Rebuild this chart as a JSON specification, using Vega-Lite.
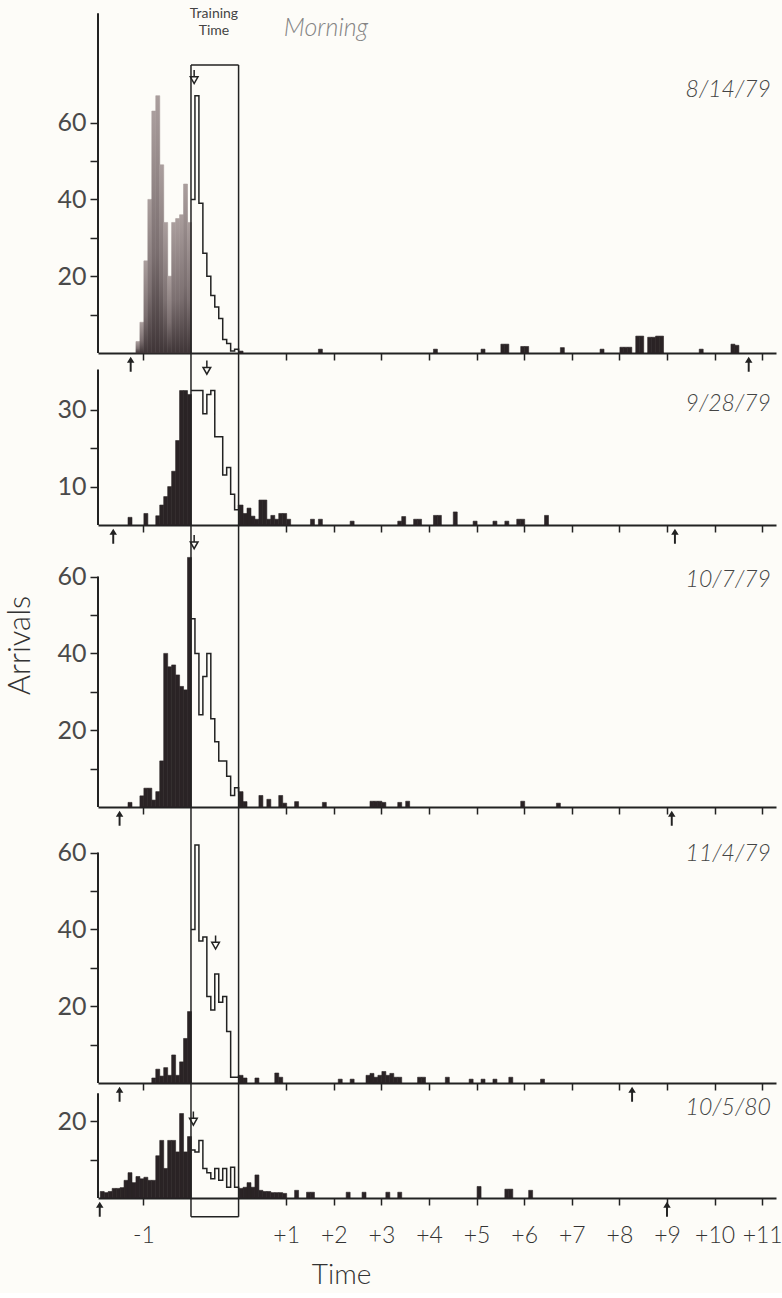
{
  "$schema": "https://vega.github.io/schema/vega-lite/v6.json",
  "background": "#fdfcf8",
  "padding": {"left": 4, "top": 0, "right": 5, "bottom": 4},
  "spacing": 0,
  "bounds": "flush",
  "config": {
    "view": {"stroke": null},
    "axis": {"grid": false, "domainColor": "#222222", "tickColor": "#222222", "labelColor": "#4a4a4a", "labelFont": "Lato", "labelFontWeight": 400, "titleFont": "Lato", "titleFontWeight": 300, "titleColor": "#333333"}
  },
  "datasets": {
    "hist": [
      {"date": "8/14/79", "minute": -70, "arrivals": 3}, {"date": "8/14/79", "minute": -65, "arrivals": 8}, {"date": "8/14/79", "minute": -60, "arrivals": 24}, {"date": "8/14/79", "minute": -55, "arrivals": 40}, {"date": "8/14/79", "minute": -50, "arrivals": 63}, {"date": "8/14/79", "minute": -45, "arrivals": 67}, {"date": "8/14/79", "minute": -40, "arrivals": 49}, {"date": "8/14/79", "minute": -35, "arrivals": 34}, {"date": "8/14/79", "minute": -30, "arrivals": 20}, {"date": "8/14/79", "minute": -25, "arrivals": 34}, {"date": "8/14/79", "minute": -20, "arrivals": 35}, {"date": "8/14/79", "minute": -15, "arrivals": 36}, {"date": "8/14/79", "minute": -10, "arrivals": 44}, {"date": "8/14/79", "minute": -5, "arrivals": 34},
      {"date": "8/14/79", "minute": 0, "arrivals": 40}, {"date": "8/14/79", "minute": 5, "arrivals": 67}, {"date": "8/14/79", "minute": 10, "arrivals": 39}, {"date": "8/14/79", "minute": 15, "arrivals": 26}, {"date": "8/14/79", "minute": 20, "arrivals": 20}, {"date": "8/14/79", "minute": 25, "arrivals": 15}, {"date": "8/14/79", "minute": 30, "arrivals": 12}, {"date": "8/14/79", "minute": 35, "arrivals": 9}, {"date": "8/14/79", "minute": 40, "arrivals": 3.5}, {"date": "8/14/79", "minute": 45, "arrivals": 2.5}, {"date": "8/14/79", "minute": 50, "arrivals": 0.5}, {"date": "8/14/79", "minute": 55, "arrivals": 1},
      {"date": "8/14/79", "minute": 60, "arrivals": 0.5}, {"date": "8/14/79", "minute": 160, "arrivals": 1}, {"date": "8/14/79", "minute": 305, "arrivals": 1}, {"date": "8/14/79", "minute": 365, "arrivals": 1}, {"date": "8/14/79", "minute": 390, "arrivals": 2.3}, {"date": "8/14/79", "minute": 395, "arrivals": 2.3}, {"date": "8/14/79", "minute": 415, "arrivals": 1.7}, {"date": "8/14/79", "minute": 420, "arrivals": 1.7}, {"date": "8/14/79", "minute": 465, "arrivals": 1.4}, {"date": "8/14/79", "minute": 515, "arrivals": 1}, {"date": "8/14/79", "minute": 540, "arrivals": 1.5}, {"date": "8/14/79", "minute": 545, "arrivals": 1.5}, {"date": "8/14/79", "minute": 550, "arrivals": 1.5}, {"date": "8/14/79", "minute": 560, "arrivals": 4.4}, {"date": "8/14/79", "minute": 565, "arrivals": 4.4}, {"date": "8/14/79", "minute": 575, "arrivals": 4.1}, {"date": "8/14/79", "minute": 580, "arrivals": 4.1}, {"date": "8/14/79", "minute": 585, "arrivals": 4.4}, {"date": "8/14/79", "minute": 590, "arrivals": 4.4}, {"date": "8/14/79", "minute": 640, "arrivals": 1}, {"date": "8/14/79", "minute": 680, "arrivals": 2.3}, {"date": "8/14/79", "minute": 685, "arrivals": 2},

      {"date": "9/28/79", "minute": -80, "arrivals": 2}, {"date": "9/28/79", "minute": -60, "arrivals": 3}, {"date": "9/28/79", "minute": -45, "arrivals": 2.4}, {"date": "9/28/79", "minute": -40, "arrivals": 5.2}, {"date": "9/28/79", "minute": -35, "arrivals": 7.4}, {"date": "9/28/79", "minute": -30, "arrivals": 10}, {"date": "9/28/79", "minute": -25, "arrivals": 14}, {"date": "9/28/79", "minute": -20, "arrivals": 22}, {"date": "9/28/79", "minute": -15, "arrivals": 35}, {"date": "9/28/79", "minute": -10, "arrivals": 35}, {"date": "9/28/79", "minute": -5, "arrivals": 34},
      {"date": "9/28/79", "minute": 0, "arrivals": 35}, {"date": "9/28/79", "minute": 5, "arrivals": 35}, {"date": "9/28/79", "minute": 10, "arrivals": 35}, {"date": "9/28/79", "minute": 15, "arrivals": 29}, {"date": "9/28/79", "minute": 20, "arrivals": 34}, {"date": "9/28/79", "minute": 25, "arrivals": 35}, {"date": "9/28/79", "minute": 30, "arrivals": 23}, {"date": "9/28/79", "minute": 35, "arrivals": 23}, {"date": "9/28/79", "minute": 40, "arrivals": 13}, {"date": "9/28/79", "minute": 45, "arrivals": 15}, {"date": "9/28/79", "minute": 50, "arrivals": 8}, {"date": "9/28/79", "minute": 55, "arrivals": 4},
      {"date": "9/28/79", "minute": 60, "arrivals": 5.2}, {"date": "9/28/79", "minute": 65, "arrivals": 3}, {"date": "9/28/79", "minute": 70, "arrivals": 4.4}, {"date": "9/28/79", "minute": 75, "arrivals": 2.3}, {"date": "9/28/79", "minute": 80, "arrivals": 1.5}, {"date": "9/28/79", "minute": 85, "arrivals": 6.5}, {"date": "9/28/79", "minute": 90, "arrivals": 6.5}, {"date": "9/28/79", "minute": 95, "arrivals": 1.5}, {"date": "9/28/79", "minute": 100, "arrivals": 2.5}, {"date": "9/28/79", "minute": 105, "arrivals": 1.5}, {"date": "9/28/79", "minute": 110, "arrivals": 3}, {"date": "9/28/79", "minute": 115, "arrivals": 3}, {"date": "9/28/79", "minute": 120, "arrivals": 1.5}, {"date": "9/28/79", "minute": 150, "arrivals": 1.5}, {"date": "9/28/79", "minute": 160, "arrivals": 1.5}, {"date": "9/28/79", "minute": 200, "arrivals": 1}, {"date": "9/28/79", "minute": 260, "arrivals": 1}, {"date": "9/28/79", "minute": 265, "arrivals": 2.2}, {"date": "9/28/79", "minute": 280, "arrivals": 1.5}, {"date": "9/28/79", "minute": 285, "arrivals": 1.5}, {"date": "9/28/79", "minute": 305, "arrivals": 2.5}, {"date": "9/28/79", "minute": 310, "arrivals": 2.5}, {"date": "9/28/79", "minute": 330, "arrivals": 3.4}, {"date": "9/28/79", "minute": 355, "arrivals": 1}, {"date": "9/28/79", "minute": 380, "arrivals": 1}, {"date": "9/28/79", "minute": 395, "arrivals": 1}, {"date": "9/28/79", "minute": 410, "arrivals": 1.5}, {"date": "9/28/79", "minute": 415, "arrivals": 1.5}, {"date": "9/28/79", "minute": 445, "arrivals": 2.5},

      {"date": "10/7/79", "minute": -80, "arrivals": 1.2}, {"date": "10/7/79", "minute": -65, "arrivals": 2.9}, {"date": "10/7/79", "minute": -60, "arrivals": 4.9}, {"date": "10/7/79", "minute": -55, "arrivals": 4.9}, {"date": "10/7/79", "minute": -50, "arrivals": 1.8}, {"date": "10/7/79", "minute": -45, "arrivals": 4}, {"date": "10/7/79", "minute": -40, "arrivals": 12}, {"date": "10/7/79", "minute": -35, "arrivals": 40}, {"date": "10/7/79", "minute": -30, "arrivals": 36.5}, {"date": "10/7/79", "minute": -25, "arrivals": 37}, {"date": "10/7/79", "minute": -20, "arrivals": 34.4}, {"date": "10/7/79", "minute": -15, "arrivals": 31.4}, {"date": "10/7/79", "minute": -10, "arrivals": 30.5}, {"date": "10/7/79", "minute": -5, "arrivals": 65},
      {"date": "10/7/79", "minute": 0, "arrivals": 49}, {"date": "10/7/79", "minute": 5, "arrivals": 40}, {"date": "10/7/79", "minute": 10, "arrivals": 24}, {"date": "10/7/79", "minute": 15, "arrivals": 34}, {"date": "10/7/79", "minute": 20, "arrivals": 40}, {"date": "10/7/79", "minute": 25, "arrivals": 23}, {"date": "10/7/79", "minute": 30, "arrivals": 17}, {"date": "10/7/79", "minute": 35, "arrivals": 12}, {"date": "10/7/79", "minute": 40, "arrivals": 12}, {"date": "10/7/79", "minute": 45, "arrivals": 8}, {"date": "10/7/79", "minute": 50, "arrivals": 3}, {"date": "10/7/79", "minute": 55, "arrivals": 5},
      {"date": "10/7/79", "minute": 60, "arrivals": 4}, {"date": "10/7/79", "minute": 65, "arrivals": 1.4}, {"date": "10/7/79", "minute": 85, "arrivals": 3}, {"date": "10/7/79", "minute": 95, "arrivals": 2}, {"date": "10/7/79", "minute": 110, "arrivals": 3}, {"date": "10/7/79", "minute": 115, "arrivals": 1}, {"date": "10/7/79", "minute": 130, "arrivals": 1.4}, {"date": "10/7/79", "minute": 165, "arrivals": 1.2}, {"date": "10/7/79", "minute": 225, "arrivals": 1.5}, {"date": "10/7/79", "minute": 230, "arrivals": 1.5}, {"date": "10/7/79", "minute": 235, "arrivals": 1.5}, {"date": "10/7/79", "minute": 240, "arrivals": 1.2}, {"date": "10/7/79", "minute": 260, "arrivals": 1.2}, {"date": "10/7/79", "minute": 270, "arrivals": 1.5}, {"date": "10/7/79", "minute": 415, "arrivals": 1.5}, {"date": "10/7/79", "minute": 460, "arrivals": 1},

      {"date": "11/4/79", "minute": -50, "arrivals": 1.3}, {"date": "11/4/79", "minute": -45, "arrivals": 3.6}, {"date": "11/4/79", "minute": -40, "arrivals": 1.8}, {"date": "11/4/79", "minute": -35, "arrivals": 4}, {"date": "11/4/79", "minute": -30, "arrivals": 2}, {"date": "11/4/79", "minute": -25, "arrivals": 7.3}, {"date": "11/4/79", "minute": -20, "arrivals": 2}, {"date": "11/4/79", "minute": -15, "arrivals": 5.5}, {"date": "11/4/79", "minute": -10, "arrivals": 11.6}, {"date": "11/4/79", "minute": -5, "arrivals": 18.6},
      {"date": "11/4/79", "minute": 0, "arrivals": 40}, {"date": "11/4/79", "minute": 5, "arrivals": 62}, {"date": "11/4/79", "minute": 10, "arrivals": 37}, {"date": "11/4/79", "minute": 15, "arrivals": 38}, {"date": "11/4/79", "minute": 20, "arrivals": 22.5}, {"date": "11/4/79", "minute": 25, "arrivals": 19}, {"date": "11/4/79", "minute": 30, "arrivals": 28.4}, {"date": "11/4/79", "minute": 35, "arrivals": 21}, {"date": "11/4/79", "minute": 40, "arrivals": 22.5}, {"date": "11/4/79", "minute": 45, "arrivals": 13.4}, {"date": "11/4/79", "minute": 50, "arrivals": 1.5}, {"date": "11/4/79", "minute": 55, "arrivals": 1.5},
      {"date": "11/4/79", "minute": 60, "arrivals": 2}, {"date": "11/4/79", "minute": 65, "arrivals": 1.3}, {"date": "11/4/79", "minute": 80, "arrivals": 1.3}, {"date": "11/4/79", "minute": 105, "arrivals": 2.6}, {"date": "11/4/79", "minute": 110, "arrivals": 1.5}, {"date": "11/4/79", "minute": 185, "arrivals": 1}, {"date": "11/4/79", "minute": 200, "arrivals": 1}, {"date": "11/4/79", "minute": 220, "arrivals": 2}, {"date": "11/4/79", "minute": 225, "arrivals": 2.5}, {"date": "11/4/79", "minute": 230, "arrivals": 1.5}, {"date": "11/4/79", "minute": 235, "arrivals": 2}, {"date": "11/4/79", "minute": 240, "arrivals": 3}, {"date": "11/4/79", "minute": 245, "arrivals": 2}, {"date": "11/4/79", "minute": 250, "arrivals": 2.5}, {"date": "11/4/79", "minute": 255, "arrivals": 1.5}, {"date": "11/4/79", "minute": 260, "arrivals": 1.5}, {"date": "11/4/79", "minute": 285, "arrivals": 1.5}, {"date": "11/4/79", "minute": 290, "arrivals": 1.5}, {"date": "11/4/79", "minute": 320, "arrivals": 1.5}, {"date": "11/4/79", "minute": 350, "arrivals": 1}, {"date": "11/4/79", "minute": 365, "arrivals": 1}, {"date": "11/4/79", "minute": 380, "arrivals": 1}, {"date": "11/4/79", "minute": 400, "arrivals": 1.5}, {"date": "11/4/79", "minute": 440, "arrivals": 1},

      {"date": "10/5/80", "minute": -115, "arrivals": 1.7}, {"date": "10/5/80", "minute": -110, "arrivals": 1.4}, {"date": "10/5/80", "minute": -105, "arrivals": 1.7}, {"date": "10/5/80", "minute": -100, "arrivals": 2.5}, {"date": "10/5/80", "minute": -95, "arrivals": 2.5}, {"date": "10/5/80", "minute": -90, "arrivals": 2.7}, {"date": "10/5/80", "minute": -85, "arrivals": 4.6}, {"date": "10/5/80", "minute": -80, "arrivals": 6.6}, {"date": "10/5/80", "minute": -75, "arrivals": 4}, {"date": "10/5/80", "minute": -70, "arrivals": 5.6}, {"date": "10/5/80", "minute": -65, "arrivals": 5}, {"date": "10/5/80", "minute": -60, "arrivals": 5.4}, {"date": "10/5/80", "minute": -55, "arrivals": 4.6}, {"date": "10/5/80", "minute": -50, "arrivals": 4.6}, {"date": "10/5/80", "minute": -45, "arrivals": 11}, {"date": "10/5/80", "minute": -40, "arrivals": 15}, {"date": "10/5/80", "minute": -35, "arrivals": 7.7}, {"date": "10/5/80", "minute": -30, "arrivals": 15}, {"date": "10/5/80", "minute": -25, "arrivals": 15}, {"date": "10/5/80", "minute": -20, "arrivals": 12}, {"date": "10/5/80", "minute": -15, "arrivals": 22}, {"date": "10/5/80", "minute": -10, "arrivals": 12}, {"date": "10/5/80", "minute": -5, "arrivals": 16},
      {"date": "10/5/80", "minute": 0, "arrivals": 12.5}, {"date": "10/5/80", "minute": 5, "arrivals": 12}, {"date": "10/5/80", "minute": 10, "arrivals": 15}, {"date": "10/5/80", "minute": 15, "arrivals": 7.7}, {"date": "10/5/80", "minute": 20, "arrivals": 6.6}, {"date": "10/5/80", "minute": 25, "arrivals": 5}, {"date": "10/5/80", "minute": 30, "arrivals": 7.7}, {"date": "10/5/80", "minute": 35, "arrivals": 4.6}, {"date": "10/5/80", "minute": 40, "arrivals": 7.7}, {"date": "10/5/80", "minute": 45, "arrivals": 2.8}, {"date": "10/5/80", "minute": 50, "arrivals": 8}, {"date": "10/5/80", "minute": 55, "arrivals": 2.8},
      {"date": "10/5/80", "minute": 60, "arrivals": 2.5}, {"date": "10/5/80", "minute": 65, "arrivals": 2.8}, {"date": "10/5/80", "minute": 70, "arrivals": 4}, {"date": "10/5/80", "minute": 75, "arrivals": 2.8}, {"date": "10/5/80", "minute": 80, "arrivals": 6}, {"date": "10/5/80", "minute": 85, "arrivals": 2}, {"date": "10/5/80", "minute": 90, "arrivals": 1.7}, {"date": "10/5/80", "minute": 95, "arrivals": 1.7}, {"date": "10/5/80", "minute": 100, "arrivals": 1.4}, {"date": "10/5/80", "minute": 105, "arrivals": 1.4}, {"date": "10/5/80", "minute": 110, "arrivals": 1.4}, {"date": "10/5/80", "minute": 115, "arrivals": 1.2}, {"date": "10/5/80", "minute": 130, "arrivals": 2}, {"date": "10/5/80", "minute": 145, "arrivals": 1.5}, {"date": "10/5/80", "minute": 150, "arrivals": 1.5}, {"date": "10/5/80", "minute": 195, "arrivals": 1.5}, {"date": "10/5/80", "minute": 215, "arrivals": 1.5}, {"date": "10/5/80", "minute": 245, "arrivals": 1.5}, {"date": "10/5/80", "minute": 260, "arrivals": 1.5}, {"date": "10/5/80", "minute": 360, "arrivals": 3}, {"date": "10/5/80", "minute": 395, "arrivals": 2.3}, {"date": "10/5/80", "minute": 400, "arrivals": 2.3}, {"date": "10/5/80", "minute": 425, "arrivals": 2}
    ],
    "arrows": [
      {"date": "8/14/79", "minute": -76, "dir": "up"}, {"date": "8/14/79", "minute": 703, "dir": "up"}, {"date": "8/14/79", "minute": 4, "dir": "down", "arrivals": 71.5},
      {"date": "9/28/79", "minute": -98, "dir": "up"}, {"date": "9/28/79", "minute": 610, "dir": "up"}, {"date": "9/28/79", "minute": 20, "dir": "down", "arrivals": 40.6},
      {"date": "10/7/79", "minute": -90, "dir": "up"}, {"date": "10/7/79", "minute": 606, "dir": "up"}, {"date": "10/7/79", "minute": 4, "dir": "down", "arrivals": 68.6},
      {"date": "11/4/79", "minute": -90, "dir": "up"}, {"date": "11/4/79", "minute": 556, "dir": "up"}, {"date": "11/4/79", "minute": 31, "dir": "down", "arrivals": 36.2},
      {"date": "10/5/80", "minute": -115, "dir": "up"}, {"date": "10/5/80", "minute": 600, "dir": "up"}, {"date": "10/5/80", "minute": 3, "dir": "down", "arrivals": 20.3}
    ]
  },
  "vconcat": [
    {
      "width": 678, "height": 353,
      "layer": [
        {"data": {"name": "hist"}, "transform": [{"filter": "datum.date == '8/14/79' && datum.minute < 0"}],
         "mark": {"type": "bar", "binSpacing": 0, "strokeWidth": 0.6,
                  "color": {"gradient": "linear", "x1": 0, "y1": 0, "x2": 0, "y2": 1, "stops": [{"offset": 0, "color": "#aa9e9d"}, {"offset": 0.6, "color": "#7b6f70"}, {"offset": 1, "color": "#3f3537"}]},
                  "stroke": {"gradient": "linear", "x1": 0, "y1": 0, "x2": 0, "y2": 1, "stops": [{"offset": 0, "color": "#aa9e9d"}, {"offset": 0.6, "color": "#7b6f70"}, {"offset": 1, "color": "#3f3537"}]}},
         "encoding": {
           "x": {"field": "minute", "type": "quantitative", "bin": {"binned": true, "step": 5}, "scale": {"domain": [-117.2, 737.4], "nice": false, "zero": false},
                 "axis": {"values": [-60, 120, 180, 240, 300, 360, 420, 480, 540, 600, 660, 720], "labels": false, "tickSize": 7, "tickWidth": 1.5, "domainWidth": 2, "title": null}},
           "y": {"field": "arrivals", "type": "quantitative", "scale": {"domain": [0, 91.93], "nice": false},
                 "axis": {"values": [10, 20, 30, 40, 50, 60], "labelExpr": "datum.value % 20 == 0 ? datum.label : ''", "domain": false, "tickSize": 8, "tickWidth": 1.5, "labelPadding": 4, "labelFontSize": 25, "title": null}}
         }},
        {"data": {"name": "hist"}, "transform": [{"filter": "datum.date == '8/14/79' && datum.minute >= 60"}],
         "mark": {"type": "bar", "binSpacing": 0, "color": "#2a2325", "stroke": "#2a2325", "strokeWidth": 0.6},
         "encoding": {"x": {"field": "minute", "type": "quantitative", "bin": {"binned": true, "step": 5}}, "y": {"field": "arrivals", "type": "quantitative"}}},
        {"data": {"name": "hist"}, "transform": [{"filter": "datum.date == '8/14/79' && datum.minute >= 0 && datum.minute <= 60"}],
         "mark": {"type": "line", "interpolate": "step-after", "color": "#222222", "strokeWidth": 1.5},
         "encoding": {"x": {"field": "minute", "type": "quantitative"}, "y": {"field": "arrivals", "type": "quantitative"}}},
        {"data": {"values": [{"minute": 0}, {"minute": 60}]},
         "mark": {"type": "rule", "color": "#222222", "strokeWidth": 1.5},
         "encoding": {"x": {"field": "minute", "type": "quantitative"}, "y": {"datum": 0}, "y2": {"datum": 75}}},
        {"data": {"values": [{}]},
         "mark": {"type": "rule", "color": "#222222", "strokeWidth": 1.5},
         "encoding": {"x": {"datum": 0}, "x2": {"datum": 60}, "y": {"datum": 75}}},
        {"data": {"values": [{}]},
         "mark": {"type": "rule", "color": "#222222", "strokeWidth": 2},
         "encoding": {"x": {"datum": -117.2}, "y": {"datum": 0}, "y2": {"datum": 88.5}}},
        {"data": {"name": "arrows"}, "transform": [{"filter": "datum.date == '8/14/79' && datum.dir == 'up'"}],
         "mark": {"type": "point", "shape": "M0,-1L0.5,-0.2L0.13,-0.2L0.13,1L-0.13,1L-0.13,-0.2L-0.5,-0.2Z", "filled": true, "size": 225, "color": "#222222", "opacity": 1},
         "encoding": {"x": {"field": "minute", "type": "quantitative"}, "y": {"datum": -2.9}}},
        {"data": {"name": "arrows"}, "transform": [{"filter": "datum.date == '8/14/79' && datum.dir == 'down'"}],
         "mark": {"type": "point", "shape": "M0,-1L0,-0.2M-0.45,-0.2L0.45,-0.2L0,0.6Z", "filled": false, "size": 289, "color": "#222222", "strokeWidth": 1.5, "opacity": 1},
         "encoding": {"x": {"field": "minute", "type": "quantitative"}, "y": {"field": "arrivals", "type": "quantitative"}}},
        {"data": {"values": [{"label": "8/14/79"}]},
         "mark": {"type": "text", "align": "right", "baseline": "middle", "font": "Lato", "fontStyle": "italic", "fontWeight": 300, "fontSize": 23, "color": "#444444"},
         "encoding": {"text": {"field": "label"}, "x": {"datum": 731}, "y": {"datum": 68.5}}},
        {"data": {"values": [{}]},
         "mark": {"type": "text", "text": ["Training", "Time"], "lineHeight": 17, "align": "center", "baseline": "top", "font": "Lato", "fontWeight": 400, "fontSize": 14, "color": "#444444"},
         "encoding": {"x": {"datum": 29}, "y": {"datum": 90}}},
        {"data": {"values": [{"label": "Morning"}]},
         "mark": {"type": "text", "align": "left", "baseline": "middle", "font": "Lato", "fontStyle": "italic", "fontWeight": 300, "fontSize": 25, "color": "#858585"},
         "encoding": {"text": {"field": "label"}, "x": {"datum": 117}, "y": {"datum": 84.6}}}
      ]
    },
    {
      "width": 678, "height": 172,
      "layer": [
        {"data": {"name": "hist"}, "transform": [{"filter": "datum.date == '9/28/79' && (datum.minute < 0 || datum.minute >= 60)"}],
         "mark": {"type": "bar", "binSpacing": 0, "color": "#2a2325", "stroke": "#2a2325", "strokeWidth": 0.6},
         "encoding": {
           "x": {"field": "minute", "type": "quantitative", "bin": {"binned": true, "step": 5}, "scale": {"domain": [-117.2, 737.4], "nice": false, "zero": false},
                 "axis": {"values": [-60, 120, 180, 240, 300, 360, 420, 480, 540, 600, 660, 720], "labels": false, "tickSize": 7, "tickWidth": 1.5, "domainWidth": 2, "title": null}},
           "y": {"field": "arrivals", "type": "quantitative", "scale": {"domain": [0, 44.79], "nice": false},
                 "axis": {"values": [10, 20, 30], "labelExpr": "datum.value == 20 ? '' : datum.label", "domain": false, "tickSize": 8, "tickWidth": 1.5, "labelPadding": 4, "labelFontSize": 25, "title": null}}
         }},
        {"data": {"name": "hist"}, "transform": [{"filter": "datum.date == '9/28/79' && datum.minute >= 0 && datum.minute <= 60"}],
         "mark": {"type": "line", "interpolate": "step-after", "color": "#222222", "strokeWidth": 1.5},
         "encoding": {"x": {"field": "minute", "type": "quantitative"}, "y": {"field": "arrivals", "type": "quantitative"}}},
        {"data": {"values": [{"minute": 0}, {"minute": 60}]},
         "mark": {"type": "rule", "color": "#222222", "strokeWidth": 1.5},
         "encoding": {"x": {"field": "minute", "type": "quantitative"}, "y": {"datum": 0}, "y2": {"datum": 44.79}}},
        {"data": {"values": [{}]},
         "mark": {"type": "rule", "color": "#222222", "strokeWidth": 2},
         "encoding": {"x": {"datum": -117.2}, "y": {"datum": 0}, "y2": {"datum": 40.5}}},
        {"data": {"name": "arrows"}, "transform": [{"filter": "datum.date == '9/28/79' && datum.dir == 'up'"}],
         "mark": {"type": "point", "shape": "M0,-1L0.5,-0.2L0.13,-0.2L0.13,1L-0.13,1L-0.13,-0.2L-0.5,-0.2Z", "filled": true, "size": 225, "color": "#222222", "opacity": 1},
         "encoding": {"x": {"field": "minute", "type": "quantitative"}, "y": {"datum": -2.9}}},
        {"data": {"name": "arrows"}, "transform": [{"filter": "datum.date == '9/28/79' && datum.dir == 'down'"}],
         "mark": {"type": "point", "shape": "M0,-1L0,-0.2M-0.45,-0.2L0.45,-0.2L0,0.6Z", "filled": false, "size": 289, "color": "#222222", "strokeWidth": 1.5, "opacity": 1},
         "encoding": {"x": {"field": "minute", "type": "quantitative"}, "y": {"field": "arrivals", "type": "quantitative"}}},
        {"data": {"values": [{"label": "9/28/79"}]},
         "mark": {"type": "text", "align": "right", "baseline": "middle", "font": "Lato", "fontStyle": "italic", "fontWeight": 300, "fontSize": 23, "color": "#444444"},
         "encoding": {"text": {"field": "label"}, "x": {"datum": 731}, "y": {"datum": 31.5}}}
      ]
    },
    {
      "width": 678, "height": 282,
      "layer": [
        {"data": {"name": "hist"}, "transform": [{"filter": "datum.date == '10/7/79' && (datum.minute < 0 || datum.minute >= 60)"}],
         "mark": {"type": "bar", "binSpacing": 0, "color": "#2a2325", "stroke": "#2a2325", "strokeWidth": 0.6},
         "encoding": {
           "x": {"field": "minute", "type": "quantitative", "bin": {"binned": true, "step": 5}, "scale": {"domain": [-117.2, 737.4], "nice": false, "zero": false},
                 "axis": {"values": [-60, 120, 180, 240, 300, 360, 420, 480, 540, 600, 660, 720], "labels": false, "tickSize": 7, "tickWidth": 1.5, "domainWidth": 2, "title": null}},
           "y": {"field": "arrivals", "type": "quantitative", "scale": {"domain": [0, 73.44], "nice": false},
                 "axis": {"values": [10, 20, 30, 40, 50, 60], "labelExpr": "datum.value % 20 == 0 ? datum.label : ''", "domain": false, "tickSize": 8, "tickWidth": 1.5, "labelPadding": 4, "labelFontSize": 25,
                          "title": "Arrivals", "titleFontSize": 31, "titleX": -78, "titleY": 120, "titleAngle": 270, "titleBaseline": "middle", "titleAlign": "center"}}
         }},
        {"data": {"name": "hist"}, "transform": [{"filter": "datum.date == '10/7/79' && datum.minute >= 0 && datum.minute <= 60"}],
         "mark": {"type": "line", "interpolate": "step-after", "color": "#222222", "strokeWidth": 1.5},
         "encoding": {"x": {"field": "minute", "type": "quantitative"}, "y": {"field": "arrivals", "type": "quantitative"}}},
        {"data": {"values": [{"minute": 0}, {"minute": 60}]},
         "mark": {"type": "rule", "color": "#222222", "strokeWidth": 1.5},
         "encoding": {"x": {"field": "minute", "type": "quantitative"}, "y": {"datum": 0}, "y2": {"datum": 73.44}}},
        {"data": {"values": [{}]},
         "mark": {"type": "rule", "color": "#222222", "strokeWidth": 2},
         "encoding": {"x": {"datum": -117.2}, "y": {"datum": 0}, "y2": {"datum": 60}}},
        {"data": {"name": "arrows"}, "transform": [{"filter": "datum.date == '10/7/79' && datum.dir == 'up'"}],
         "mark": {"type": "point", "shape": "M0,-1L0.5,-0.2L0.13,-0.2L0.13,1L-0.13,1L-0.13,-0.2L-0.5,-0.2Z", "filled": true, "size": 225, "color": "#222222", "opacity": 1},
         "encoding": {"x": {"field": "minute", "type": "quantitative"}, "y": {"datum": -2.9}}},
        {"data": {"name": "arrows"}, "transform": [{"filter": "datum.date == '10/7/79' && datum.dir == 'down'"}],
         "mark": {"type": "point", "shape": "M0,-1L0,-0.2M-0.45,-0.2L0.45,-0.2L0,0.6Z", "filled": false, "size": 289, "color": "#222222", "strokeWidth": 1.5, "opacity": 1},
         "encoding": {"x": {"field": "minute", "type": "quantitative"}, "y": {"field": "arrivals", "type": "quantitative"}}},
        {"data": {"values": [{"label": "10/7/79"}]},
         "mark": {"type": "text", "align": "right", "baseline": "middle", "font": "Lato", "fontStyle": "italic", "fontWeight": 300, "fontSize": 23, "color": "#444444"},
         "encoding": {"text": {"field": "label"}, "x": {"datum": 731}, "y": {"datum": 59.1}}}
      ]
    },
    {
      "width": 678, "height": 276,
      "layer": [
        {"data": {"name": "hist"}, "transform": [{"filter": "datum.date == '11/4/79' && (datum.minute < 0 || datum.minute >= 60)"}],
         "mark": {"type": "bar", "binSpacing": 0, "color": "#2a2325", "stroke": "#2a2325", "strokeWidth": 0.6},
         "encoding": {
           "x": {"field": "minute", "type": "quantitative", "bin": {"binned": true, "step": 5}, "scale": {"domain": [-117.2, 737.4], "nice": false, "zero": false},
                 "axis": {"values": [-60, 120, 180, 240, 300, 360, 420, 480, 540, 600, 660, 720], "labels": false, "tickSize": 7, "tickWidth": 1.5, "domainWidth": 2, "title": null}},
           "y": {"field": "arrivals", "type": "quantitative", "scale": {"domain": [0, 71.875], "nice": false},
                 "axis": {"values": [10, 20, 30, 40, 50, 60], "labelExpr": "datum.value % 20 == 0 ? datum.label : ''", "domain": false, "tickSize": 8, "tickWidth": 1.5, "labelPadding": 4, "labelFontSize": 25, "title": null}}
         }},
        {"data": {"name": "hist"}, "transform": [{"filter": "datum.date == '11/4/79' && datum.minute >= 0 && datum.minute <= 60"}],
         "mark": {"type": "line", "interpolate": "step-after", "color": "#222222", "strokeWidth": 1.5},
         "encoding": {"x": {"field": "minute", "type": "quantitative"}, "y": {"field": "arrivals", "type": "quantitative"}}},
        {"data": {"values": [{"minute": 0}, {"minute": 60}]},
         "mark": {"type": "rule", "color": "#222222", "strokeWidth": 1.5},
         "encoding": {"x": {"field": "minute", "type": "quantitative"}, "y": {"datum": 0}, "y2": {"datum": 71.875}}},
        {"data": {"values": [{}]},
         "mark": {"type": "rule", "color": "#222222", "strokeWidth": 2},
         "encoding": {"x": {"datum": -117.2}, "y": {"datum": 0}, "y2": {"datum": 60}}},
        {"data": {"name": "arrows"}, "transform": [{"filter": "datum.date == '11/4/79' && datum.dir == 'up'"}],
         "mark": {"type": "point", "shape": "M0,-1L0.5,-0.2L0.13,-0.2L0.13,1L-0.13,1L-0.13,-0.2L-0.5,-0.2Z", "filled": true, "size": 225, "color": "#222222", "opacity": 1},
         "encoding": {"x": {"field": "minute", "type": "quantitative"}, "y": {"datum": -2.9}}},
        {"data": {"name": "arrows"}, "transform": [{"filter": "datum.date == '11/4/79' && datum.dir == 'down'"}],
         "mark": {"type": "point", "shape": "M0,-1L0,-0.2M-0.45,-0.2L0.45,-0.2L0,0.6Z", "filled": false, "size": 289, "color": "#222222", "strokeWidth": 1.5, "opacity": 1},
         "encoding": {"x": {"field": "minute", "type": "quantitative"}, "y": {"field": "arrivals", "type": "quantitative"}}},
        {"data": {"values": [{"label": "11/4/79"}]},
         "mark": {"type": "text", "align": "right", "baseline": "middle", "font": "Lato", "fontStyle": "italic", "fontWeight": 300, "fontSize": 23, "color": "#444444"},
         "encoding": {"text": {"field": "label"}, "x": {"datum": 731}, "y": {"datum": 59.6}}}
      ]
    },
    {
      "width": 678, "height": 115,
      "layer": [
        {"data": {"name": "hist"}, "transform": [{"filter": "datum.date == '10/5/80' && (datum.minute < 0 || datum.minute >= 60)"}],
         "mark": {"type": "bar", "binSpacing": 0, "color": "#2a2325", "stroke": "#2a2325", "strokeWidth": 0.6},
         "encoding": {
           "x": {"field": "minute", "type": "quantitative", "bin": {"binned": true, "step": 5}, "scale": {"domain": [-117.2, 737.4], "nice": false, "zero": false},
                 "axis": {"values": [-60, 120, 180, 240, 300, 360, 420, 480, 540, 600, 660, 720], "labelExpr": "datum.value < 0 ? '-1' : '+' + (datum.value / 60 - 1)", "labelOverlap": false, "labelFontSize": 23, "labelFontWeight": 300, "labelColor": "#333333", "labelPadding": 19, "tickSize": 7, "tickWidth": 1.5, "domainWidth": 2,
                          "title": "Time", "titleFontSize": 28, "titleX": 243, "titleY": 63, "titleBaseline": "top", "titleAlign": "center"}},
           "y": {"field": "arrivals", "type": "quantitative", "scale": {"domain": [0, 29.95], "nice": false},
                 "axis": {"values": [10, 20], "labelExpr": "datum.value == 10 ? '' : datum.label", "domain": false, "tickSize": 8, "tickWidth": 1.5, "labelPadding": 4, "labelFontSize": 25, "title": null}}
         }},
        {"data": {"name": "hist"}, "transform": [{"filter": "datum.date == '10/5/80' && datum.minute >= 0 && datum.minute <= 60"}],
         "mark": {"type": "line", "interpolate": "step-after", "color": "#222222", "strokeWidth": 1.5},
         "encoding": {"x": {"field": "minute", "type": "quantitative"}, "y": {"field": "arrivals", "type": "quantitative"}}},
        {"data": {"values": [{"minute": 0}, {"minute": 60}]},
         "mark": {"type": "rule", "color": "#222222", "strokeWidth": 1.5},
         "encoding": {"x": {"field": "minute", "type": "quantitative"}, "y": {"datum": -4.9}, "y2": {"datum": 29.95}}},
        {"data": {"values": [{}]},
         "mark": {"type": "rule", "color": "#222222", "strokeWidth": 1.5},
         "encoding": {"x": {"datum": 0}, "x2": {"datum": 60}, "y": {"datum": -4.9}}},
        {"data": {"values": [{}]},
         "mark": {"type": "rule", "color": "#222222", "strokeWidth": 2},
         "encoding": {"x": {"datum": -117.2}, "y": {"datum": 0}, "y2": {"datum": 27.3}}},
        {"data": {"name": "arrows"}, "transform": [{"filter": "datum.date == '10/5/80' && datum.dir == 'up'"}],
         "mark": {"type": "point", "shape": "M0,-1L0.5,-0.2L0.13,-0.2L0.13,1L-0.13,1L-0.13,-0.2L-0.5,-0.2Z", "filled": true, "size": 225, "color": "#222222", "opacity": 1},
         "encoding": {"x": {"field": "minute", "type": "quantitative"}, "y": {"datum": -2.9}}},
        {"data": {"name": "arrows"}, "transform": [{"filter": "datum.date == '10/5/80' && datum.dir == 'down'"}],
         "mark": {"type": "point", "shape": "M0,-1L0,-0.2M-0.45,-0.2L0.45,-0.2L0,0.6Z", "filled": false, "size": 289, "color": "#222222", "strokeWidth": 1.5, "opacity": 1},
         "encoding": {"x": {"field": "minute", "type": "quantitative"}, "y": {"field": "arrivals", "type": "quantitative"}}},
        {"data": {"values": [{"label": "10/5/80"}]},
         "mark": {"type": "text", "align": "right", "baseline": "middle", "font": "Lato", "fontStyle": "italic", "fontWeight": 300, "fontSize": 23, "color": "#444444"},
         "encoding": {"text": {"field": "label"}, "x": {"datum": 731}, "y": {"datum": 23.4}}}
      ]
    }
  ]
}
